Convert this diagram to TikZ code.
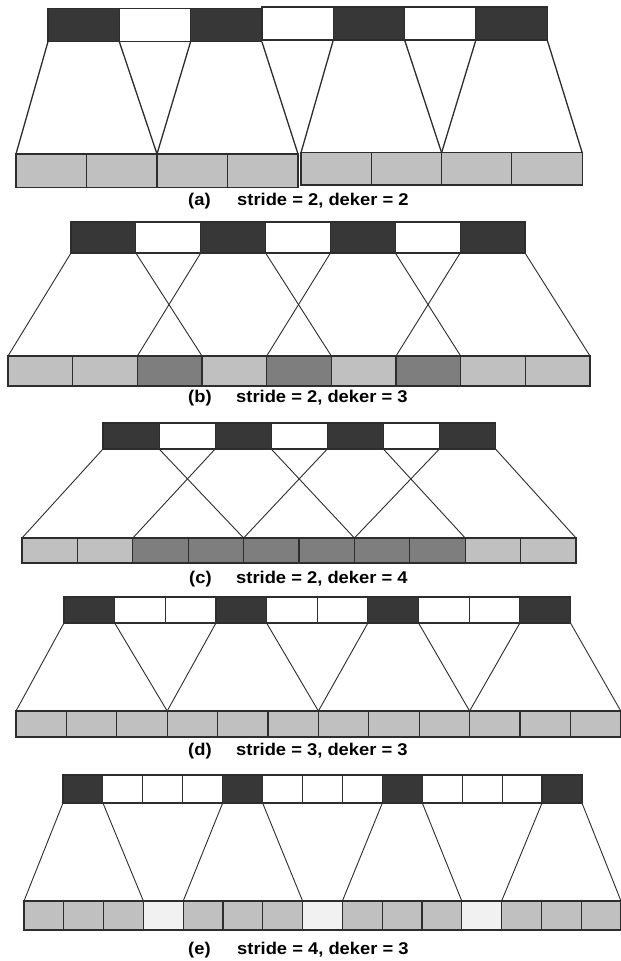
\documentclass[tikz,border=0pt]{standalone}
\usepackage{fontspec}
\newfontfamily\capfont{Liberation Sans}[FakeStretch=1.08]

\definecolor{cdark}{RGB}{55,55,55}
\definecolor{clight}{RGB}{192,192,192}
\definecolor{cmid}{RGB}{126,126,126}
\definecolor{cpale}{RGB}{241,241,241}
\definecolor{cline}{RGB}{45,45,45}

\tikzset{
  cellbox/.style={draw=cline, line width=1.1pt, inner sep=0pt, outer sep=0pt, anchor=north west},
  link/.style={draw=cline, line width=0.9pt},
  tag/.style={anchor=base west, inner sep=0pt, text=black,
    font=\capfont\bfseries\fontsize{17}{20}\selectfont},
}

% one row of cells: name prefix, first index, left x, cell width, top y, cell height, fill colours
\newcommand\cellrow[7]{%
  \foreach \col [count=\i from #2] in {#7} {
    \node[cellbox, fill=\col, minimum width=#4pt, minimum height=#6pt]
      (#1\i) at ({#3+(\i-#2)*#4}, #5) {};
  }%
}

% the four fans from the dark cells down to the cells they cover: prefix, stride, kernel
\newcommand\fanlinks[4][]{%
  \foreach \j in {0,...,3} {
    \pgfmathtruncatemacro\topidx{1+\j*#3}
    \pgfmathtruncatemacro\endidx{\topidx+#4-1}
    \draw[link,#1] (#2-t\topidx.south west) -- (#2-b\topidx.north west);
    \draw[link,#1] (#2-t\topidx.south east) -- (#2-b\endidx.north east);
  }%
}

\begin{document}
\begin{tikzpicture}[x=1pt, y=-1pt]
\useasboundingbox (0,0) rectangle (621,961);
\fill[white] (0,0) rectangle (621,961);

% (a) stride 2, kernel 2
\cellrow{a-t}{1}{48}{71.3}{8.3}{33.4}{cdark,white,cdark}
\cellrow{a-t}{4}{262}{71.3}{7}{33}{white,cdark,white,cdark}
\cellrow{a-b}{1}{16}{70.5}{154}{33.3}{clight,clight,clight,clight}
\cellrow{a-b}{5}{301}{70.3}{152.7}{32.3}{clight,clight,clight,clight}
\fanlinks[line width=1.3pt]{a}{2}{2}
\node[tag] (a-tag) at (188,205.7) {(a)};
\node[tag] (a-cap) at (237,205.7) {stride = 2, deker = 2};

% (b) stride 2, kernel 3
\cellrow{b-t}{1}{71}{64.86}{222}{31}{cdark,white,cdark,white,cdark,white,cdark}
\cellrow{b-b}{1}{8}{64.67}{356}{30}{clight,clight,cmid,clight,cmid,clight,cmid,clight,clight}
\fanlinks{b}{2}{3}
\node[tag] (b-tag) at (188,402.4) {(b)};
\node[tag] (b-cap) at (236,402.4) {stride = 2, deker = 3};

% (c) stride 2, kernel 4
\cellrow{c-t}{1}{103}{56.07}{423}{26}{cdark,white,cdark,white,cdark,white,cdark}
\cellrow{c-b}{1}{22}{55.4}{538}{25}{clight,clight,cmid,cmid,cmid,cmid,cmid,cmid,clight,clight}
\fanlinks{c}{2}{4}
\node[tag] (c-tag) at (189,583.4) {(c)};
\node[tag] (c-cap) at (236,583.4) {stride = 2, deker = 4};

% (d) stride 3, kernel 3
\cellrow{d-t}{1}{64}{50.65}{597}{26}{cdark,white,white,cdark,white,white,cdark,white,white,cdark}
\cellrow{d-b}{1}{16}{50.4}{711}{26}{clight,clight,clight,clight,clight,clight,clight,clight,clight,clight,clight,clight}
\fanlinks{d}{3}{3}
\node[tag] (d-tag) at (188,755) {(d)};
\node[tag] (d-cap) at (236,755) {stride = 3, deker = 3};

% (e) stride 4, kernel 3
\cellrow{e-t}{1}{63}{39.92}{775}{28}{cdark,white,white,white,cdark,white,white,white,cdark,white,white,white,cdark}
\cellrow{e-b}{1}{24}{39.8}{901}{29}{clight,clight,clight,cpale,clight,clight,clight,cpale,clight,clight,clight,cpale,clight,clight,clight}
\fanlinks{e}{4}{3}
\node[tag] (e-tag) at (188,954.7) {(e)};
\node[tag] (e-cap) at (237,954.7) {stride = 4, deker = 3};
\end{tikzpicture}
\end{document}
